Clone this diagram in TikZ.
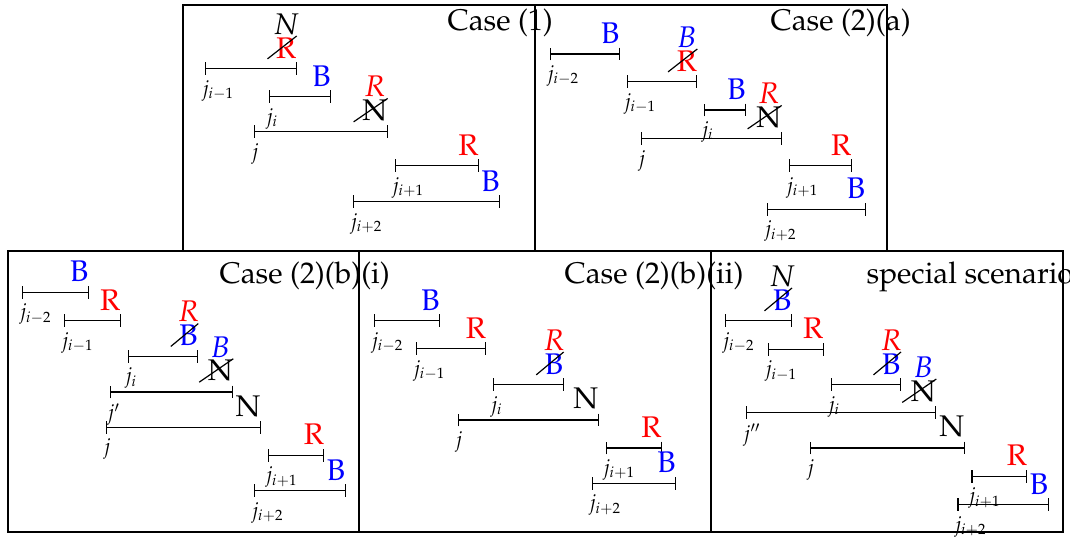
\documentclass[tikz,border=0pt]{standalone}
\usepackage[T1]{fontenc}
\usepackage{mathpazo}
\usetikzlibrary{arrows.meta,positioning}

\tikzset{
  seg/.style={arrows={Bar[width=4.2pt]-Bar[width=4.2pt]}},
  tag/.style={anchor=south east, inner sep=0pt},
  lab/.style={anchor=north west, inner sep=0pt, font=\scriptsize},
  title/.style={anchor=base west, inner sep=0pt}
}

\begin{document}
\begin{tikzpicture}[x=0.335pt, y=-0.335pt]
  \useasboundingbox (0,0) rectangle (1070,537);
  % frames
  \draw (183,5) rectangle (535,251);
  \draw (535,5) rectangle (887,251);
  \draw (8,251) rectangle (359,532);
  \draw (359,251) rectangle (711,532);
  \draw (711,251) rectangle (1063,532);

  \node[title] (t1) at (447,30.7) {Case (1)};
  \node[title] (t2) at (770,30.7) {Case (2)(a)};
  \node[title] (t3) at (219,283) {Case (2)(b)(i)};
  \node[title] (t4) at (564,283) {Case (2)(b)(ii)};
  \node[title] (t5) at (866,283) {special scenario};

  % intervals: name / start / end / height / label / tag / colour
  \foreach \n/\xa/\xb/\y/\lab/\tg/\col in {
    p1a/204.7/296.7/68.7/{j_{i-1}}/R/red,
    p1b/268.7/331.3/96.7/{j_i}/B/blue,
    p1c/254.3/387.7/131.7/{j}/N/black,
    p1d/394.7/479/165.7/{j_{i+1}}/R/red,
    p1e/353/500.3/201.7/{j_{i+2}}/B/blue,
    p2a/549.7/620/54/{j_{i-2}}/B/blue,
    p2b/626.7/697.3/81.7/{j_{i-1}}/R/red,
    p2c/704.3/746.3/110/{j_i}/B/blue,
    p2d/641/781.7/138.7/{j}/N/black,
    p2e/789/851.7/165.7/{j_{i+1}}/R/red,
    p2f/767.3/865.7/209.3/{j_{i+2}}/B/blue,
    p3a/22.3/89/292.3/{j_{i-2}}/B/blue,
    p3b/64.3/120.7/320.7/{j_{i-1}}/R/red,
    p3c/127.7/198.3/356.3/{j_i}/B/blue,
    p3d/110/233.3/392/{j'}/N/black,
    p3e/106.3/261/427.3/{j}/N/black,
    p3f/268.3/324.3/455.3/{j_{i+1}}/R/red,
    p3g/254.3/345.7/490.7/{j_{i+2}}/B/blue,
    p4a/374/440.3/320.7/{j_{i-2}}/B/blue,
    p4b/416/486.3/348.7/{j_{i-1}}/R/red,
    p4c/493.3/563.7/384.7/{j_i}/B/blue,
    p4d/458/598.7/420/{j}/N/black,
    p4e/605.7/662/448/{j_{i+1}}/R/red,
    p4f/591.7/676.3/483.3/{j_{i+2}}/B/blue,
    p5a/725.3/792/320.7/{j_{i-2}}/B/blue,
    p5b/767.7/823.7/349.3/{j_{i-1}}/R/red,
    p5c/830.7/901/384.7/{j_i}/B/blue,
    p5d/746/936.3/412.3/{j''}/N/black,
    p5e/809.7/964.7/448/{j}/N/black,
    p5f/971.3/1027.3/476.3/{j_{i+1}}/R/red,
    p5g/957.3/1048.7/504.7/{j_{i+2}}/B/blue}{
    \coordinate (\n-s) at (\xa,\y);
    \coordinate (\n-e) at (\xb,\y);
    \draw[seg] (\n-s) -- (\n-e);
    \node[lab] (\n-l) at ([xshift=-1.1pt,yshift=-3.7pt]\n-s) {$\lab$};
    \node[tag, text=\col] (\n-t) at ([yshift=3.3pt]\n-e) {\tg};
  }

  % crossed out tags and their new colour
  \foreach \n/\nw/\col in {p1a/N/black, p1c/R/red, p2b/B/blue, p2d/R/red,
      p3c/R/red, p3d/B/blue, p4c/R/red, p5a/N/black, p5c/R/red, p5d/B/blue}{
    \draw ([xshift=-2.7pt]\n-t.south west) -- ([yshift=0.3pt]\n-t.north east);
    \node[above=0.6pt of \n-t, inner sep=0pt, text=\col] (\n-w) {$\nw$};
  }
\end{tikzpicture}
\end{document}
